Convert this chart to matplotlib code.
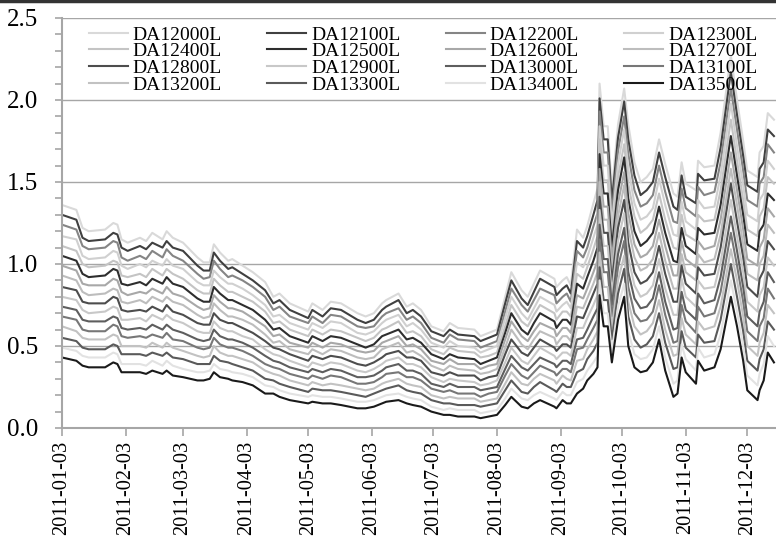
import matplotlib
matplotlib.use("Agg")
import matplotlib.pyplot as plt
from matplotlib.lines import Line2D
from matplotlib.ticker import MultipleLocator, FormatStrFormatter
import pandas as pd

plt.rcParams['font.family'] = ['Liberation Serif', 'DejaVu Serif']

dates = ["01-03","01-10","01-13","01-16","01-24","01-28","01-30","02-01","02-04","02-10",
         "02-13","02-16","02-21","02-23","02-26","03-03","03-10","03-13","03-16","03-18",
         "03-21","03-25","03-27","04-01","04-06","04-12","04-16","04-19","04-24","05-03",
         "05-05","05-10","05-14","05-19","05-27","05-31","06-04","06-08","06-10","06-16",
         "06-20","06-23","06-27","07-02","07-08","07-11","07-15","07-23","07-26","07-30",
         "08-03","08-07","08-10","08-15","08-18","08-21","08-24","08-31","09-01","09-04",
         "09-06","09-08","09-11","09-14","09-16","09-19","09-21","09-22","09-24","09-26",
         "09-28","10-01","10-04","10-06","10-09","10-12","10-15","10-18","10-21","10-24",
         "10-28","10-30","11-01","11-03","11-08","11-09","11-12","11-17","11-20","11-25",
         "11-28","12-01","12-03","12-08","12-09","12-11","12-13","12-16"]

da12000 = [1.36,1.33,1.22,1.20,1.21,1.25,1.24,1.15,1.13,1.16,1.14,1.19,1.15,1.20,1.16,1.13,1.04,1.01,1.01,1.12,
           1.07,1.02,1.03,0.99,0.95,0.89,0.80,0.82,0.76,0.71,0.76,0.72,0.77,0.76,0.70,0.68,0.70,0.76,0.78,0.82,
           0.74,0.76,0.72,0.62,0.59,0.64,0.61,0.60,0.56,0.58,0.60,0.80,0.95,0.84,0.80,0.88,0.96,0.91,0.86,0.90,
           0.92,0.87,1.21,1.16,1.23,1.37,1.46,2.10,1.84,1.84,1.45,1.85,2.07,1.85,1.62,1.50,1.53,1.58,1.76,1.61,
           1.43,1.41,1.62,1.49,1.45,1.63,1.59,1.60,1.80,2.27,2.00,1.75,1.57,1.53,1.68,1.72,1.92,1.88]
da12100 = [1.30,1.27,1.16,1.14,1.15,1.19,1.18,1.10,1.08,1.11,1.09,1.13,1.10,1.14,1.10,1.08,0.99,0.96,0.96,1.07,
           1.02,0.97,0.98,0.94,0.90,0.84,0.76,0.78,0.72,0.67,0.72,0.68,0.73,0.72,0.66,0.64,0.66,0.72,0.74,0.78,
           0.70,0.72,0.68,0.59,0.56,0.60,0.57,0.56,0.53,0.55,0.57,0.76,0.90,0.79,0.75,0.83,0.91,0.86,0.81,0.85,
           0.87,0.82,1.14,1.10,1.17,1.30,1.39,2.01,1.76,1.76,1.38,1.77,1.99,1.76,1.54,1.42,1.45,1.50,1.68,1.53,
           1.35,1.33,1.54,1.41,1.37,1.55,1.51,1.52,1.71,2.17,1.91,1.66,1.48,1.44,1.58,1.62,1.82,1.78]
da12200 = [1.24,1.21,1.11,1.09,1.10,1.14,1.13,1.04,1.02,1.05,1.03,1.08,1.04,1.09,1.05,1.02,0.94,0.91,0.92,1.02,
           0.97,0.92,0.93,0.90,0.86,0.80,0.72,0.74,0.68,0.64,0.68,0.64,0.69,0.68,0.62,0.61,0.62,0.68,0.70,0.73,
           0.66,0.68,0.64,0.55,0.52,0.57,0.54,0.53,0.49,0.51,0.53,0.71,0.85,0.75,0.71,0.78,0.85,0.81,0.76,0.80,
           0.82,0.77,1.08,1.04,1.10,1.23,1.31,1.93,1.68,1.68,1.31,1.69,1.90,1.67,1.45,1.35,1.37,1.42,1.60,1.44,
           1.26,1.25,1.46,1.34,1.29,1.47,1.42,1.44,1.62,2.07,1.82,1.57,1.39,1.35,1.49,1.53,1.73,1.68]
da12300 = [1.17,1.15,1.05,1.03,1.04,1.08,1.07,0.99,0.97,1.00,0.98,1.02,0.99,1.03,0.99,0.97,0.89,0.87,0.87,0.96,
           0.92,0.88,0.88,0.85,0.81,0.75,0.68,0.69,0.64,0.60,0.64,0.61,0.65,0.64,0.58,0.57,0.59,0.64,0.66,0.69,
           0.62,0.64,0.60,0.52,0.49,0.53,0.50,0.49,0.46,0.48,0.50,0.67,0.80,0.70,0.66,0.73,0.80,0.75,0.71,0.75,
           0.77,0.73,1.01,0.98,1.04,1.16,1.24,1.84,1.60,1.60,1.24,1.61,1.82,1.58,1.37,1.27,1.29,1.34,1.52,1.36,
           1.18,1.17,1.38,1.26,1.21,1.39,1.34,1.35,1.54,1.98,1.72,1.48,1.30,1.26,1.39,1.43,1.63,1.58]
da12400 = [1.11,1.08,1.00,0.98,0.99,1.02,1.01,0.93,0.92,0.94,0.92,0.97,0.93,0.97,0.94,0.91,0.84,0.82,0.82,0.91,
           0.87,0.83,0.83,0.80,0.77,0.71,0.64,0.65,0.60,0.56,0.60,0.57,0.60,0.59,0.55,0.53,0.55,0.60,0.61,0.65,
           0.58,0.59,0.56,0.48,0.45,0.49,0.47,0.46,0.43,0.44,0.46,0.62,0.75,0.65,0.62,0.69,0.75,0.70,0.66,0.71,
           0.71,0.68,0.94,0.91,0.98,1.09,1.17,1.76,1.51,1.51,1.17,1.53,1.73,1.49,1.29,1.19,1.22,1.27,1.43,1.27,
           1.10,1.09,1.30,1.18,1.14,1.30,1.26,1.27,1.45,1.88,1.63,1.39,1.21,1.17,1.29,1.34,1.53,1.49]
da12500 = [1.05,1.02,0.94,0.92,0.93,0.97,0.96,0.88,0.87,0.89,0.87,0.91,0.88,0.92,0.88,0.86,0.79,0.77,0.77,0.86,
           0.82,0.78,0.78,0.75,0.72,0.66,0.60,0.61,0.56,0.52,0.56,0.53,0.56,0.55,0.51,0.49,0.51,0.56,0.57,0.60,
           0.54,0.55,0.52,0.45,0.42,0.45,0.43,0.42,0.39,0.41,0.43,0.58,0.70,0.60,0.57,0.64,0.70,0.65,0.61,0.66,
           0.66,0.63,0.88,0.85,0.92,1.02,1.10,1.67,1.43,1.43,1.10,1.45,1.65,1.40,1.20,1.11,1.14,1.19,1.35,1.19,
           1.02,1.01,1.22,1.11,1.06,1.22,1.18,1.19,1.36,1.78,1.54,1.30,1.12,1.08,1.20,1.24,1.43,1.39]
da12600 = [0.99,0.96,0.88,0.87,0.87,0.91,0.90,0.83,0.81,0.83,0.82,0.85,0.82,0.86,0.82,0.80,0.74,0.72,0.73,0.81,
           0.77,0.73,0.73,0.71,0.67,0.62,0.56,0.57,0.52,0.49,0.52,0.49,0.52,0.51,0.47,0.46,0.47,0.52,0.53,0.56,
           0.50,0.51,0.48,0.41,0.39,0.42,0.39,0.39,0.36,0.38,0.39,0.54,0.65,0.56,0.53,0.59,0.64,0.60,0.56,0.61,
           0.61,0.58,0.81,0.79,0.85,0.95,1.02,1.58,1.35,1.35,1.03,1.37,1.56,1.31,1.12,1.04,1.06,1.11,1.27,1.11,
           0.93,0.93,1.14,1.03,0.98,1.14,1.09,1.11,1.27,1.68,1.45,1.21,1.03,0.99,1.10,1.15,1.34,1.29]
da12700 = [0.93,0.90,0.83,0.81,0.82,0.85,0.84,0.77,0.76,0.78,0.76,0.80,0.77,0.80,0.77,0.75,0.69,0.67,0.68,0.76,
           0.72,0.68,0.68,0.66,0.63,0.57,0.52,0.53,0.48,0.45,0.48,0.45,0.48,0.47,0.43,0.42,0.43,0.48,0.49,0.52,
           0.46,0.47,0.44,0.38,0.35,0.38,0.36,0.35,0.33,0.34,0.36,0.49,0.60,0.51,0.48,0.54,0.59,0.55,0.51,0.56,
           0.56,0.53,0.74,0.73,0.79,0.88,0.95,1.50,1.27,1.27,0.96,1.29,1.48,1.22,1.04,0.96,0.98,1.03,1.19,1.02,
           0.85,0.85,1.06,0.95,0.90,1.06,1.01,1.03,1.18,1.58,1.36,1.12,0.94,0.90,1.00,1.05,1.24,1.19]
da12800 = [0.86,0.84,0.77,0.76,0.76,0.80,0.79,0.72,0.71,0.72,0.71,0.74,0.71,0.75,0.71,0.69,0.64,0.63,0.63,0.70,
           0.66,0.64,0.64,0.61,0.58,0.53,0.49,0.48,0.45,0.41,0.44,0.42,0.44,0.43,0.39,0.38,0.40,0.43,0.45,0.47,
           0.43,0.43,0.41,0.34,0.32,0.34,0.32,0.32,0.29,0.31,0.32,0.45,0.54,0.46,0.44,0.49,0.54,0.49,0.47,0.51,
           0.51,0.49,0.68,0.67,0.73,0.82,0.88,1.41,1.19,1.19,0.89,1.22,1.39,1.13,0.95,0.88,0.90,0.95,1.11,0.94,
           0.77,0.77,0.99,0.88,0.82,0.98,0.93,0.94,1.10,1.49,1.26,1.04,0.86,0.80,0.91,0.96,1.14,1.09]
da12900 = [0.80,0.78,0.72,0.70,0.71,0.74,0.73,0.66,0.66,0.67,0.65,0.69,0.66,0.69,0.66,0.64,0.59,0.58,0.58,0.65,
           0.61,0.59,0.59,0.56,0.54,0.48,0.45,0.44,0.41,0.37,0.40,0.38,0.40,0.39,0.35,0.34,0.36,0.39,0.41,0.43,
           0.39,0.39,0.37,0.31,0.28,0.30,0.29,0.28,0.26,0.27,0.29,0.40,0.49,0.41,0.39,0.44,0.49,0.44,0.42,0.46,
           0.46,0.44,0.61,0.61,0.67,0.75,0.81,1.33,1.11,1.11,0.82,1.14,1.31,1.04,0.87,0.80,0.82,0.87,1.03,0.85,
           0.69,0.69,0.91,0.80,0.74,0.90,0.85,0.86,1.01,1.39,1.17,0.95,0.77,0.71,0.81,0.86,1.04,0.99]
da13000 = [0.74,0.72,0.66,0.65,0.65,0.68,0.67,0.61,0.60,0.61,0.60,0.63,0.60,0.63,0.60,0.58,0.54,0.53,0.54,0.60,
           0.56,0.54,0.54,0.52,0.49,0.44,0.41,0.40,0.37,0.34,0.36,0.34,0.36,0.35,0.31,0.31,0.32,0.35,0.37,0.39,
           0.35,0.35,0.33,0.27,0.25,0.27,0.25,0.25,0.23,0.24,0.25,0.36,0.44,0.37,0.35,0.39,0.43,0.39,0.37,0.41,
           0.41,0.39,0.54,0.55,0.60,0.68,0.73,1.24,1.03,1.03,0.75,1.06,1.22,0.95,0.79,0.73,0.74,0.79,0.95,0.77,
           0.60,0.61,0.83,0.72,0.66,0.82,0.76,0.78,0.92,1.29,1.08,0.86,0.68,0.62,0.71,0.77,0.95,0.89]
da13100 = [0.68,0.66,0.60,0.59,0.59,0.63,0.62,0.56,0.55,0.56,0.55,0.57,0.55,0.58,0.54,0.53,0.49,0.48,0.49,0.55,
           0.51,0.49,0.49,0.47,0.44,0.39,0.37,0.36,0.33,0.30,0.32,0.30,0.32,0.31,0.27,0.27,0.28,0.31,0.33,0.34,
           0.31,0.31,0.29,0.24,0.22,0.23,0.21,0.21,0.19,0.21,0.22,0.32,0.39,0.32,0.30,0.34,0.38,0.34,0.32,0.36,
           0.36,0.34,0.48,0.49,0.54,0.61,0.66,1.15,0.95,0.95,0.68,0.98,1.14,0.86,0.70,0.65,0.66,0.71,0.87,0.69,
           0.52,0.53,0.75,0.65,0.58,0.74,0.68,0.70,0.83,1.19,0.99,0.77,0.59,0.53,0.62,0.67,0.85,0.79]
da13200 = [0.62,0.59,0.55,0.54,0.54,0.57,0.56,0.50,0.50,0.50,0.49,0.52,0.49,0.52,0.49,0.47,0.44,0.43,0.44,0.50,
           0.46,0.44,0.44,0.42,0.40,0.35,0.33,0.32,0.29,0.26,0.28,0.26,0.27,0.26,0.24,0.23,0.24,0.27,0.28,0.30,
           0.27,0.26,0.25,0.20,0.18,0.19,0.18,0.18,0.16,0.17,0.18,0.27,0.34,0.27,0.26,0.30,0.33,0.29,0.27,0.32,
           0.30,0.29,0.41,0.42,0.48,0.54,0.59,1.07,0.86,0.86,0.61,0.90,1.05,0.77,0.62,0.57,0.59,0.64,0.78,0.60,
           0.44,0.45,0.67,0.57,0.51,0.65,0.60,0.62,0.74,1.09,0.90,0.68,0.50,0.44,0.52,0.58,0.75,0.70]
da13300 = [0.55,0.53,0.49,0.48,0.48,0.51,0.50,0.45,0.45,0.45,0.44,0.46,0.44,0.46,0.43,0.42,0.39,0.39,0.39,0.44,
           0.41,0.40,0.39,0.37,0.35,0.30,0.29,0.27,0.25,0.22,0.24,0.23,0.23,0.22,0.20,0.19,0.21,0.23,0.24,0.26,
           0.23,0.22,0.21,0.17,0.15,0.15,0.14,0.14,0.13,0.14,0.15,0.23,0.29,0.22,0.21,0.25,0.28,0.23,0.22,0.27,
           0.25,0.25,0.34,0.36,0.42,0.47,0.52,0.98,0.78,0.78,0.54,0.82,0.97,0.68,0.54,0.49,0.51,0.56,0.70,0.52,
           0.36,0.37,0.59,0.49,0.43,0.57,0.52,0.53,0.66,1.00,0.80,0.59,0.41,0.35,0.42,0.48,0.65,0.60]
da13400 = [0.49,0.47,0.44,0.43,0.43,0.46,0.45,0.39,0.39,0.39,0.38,0.41,0.38,0.41,0.38,0.36,0.34,0.34,0.35,0.39,
           0.36,0.35,0.34,0.33,0.31,0.26,0.25,0.23,0.21,0.19,0.20,0.19,0.19,0.18,0.16,0.16,0.17,0.19,0.20,0.21,
           0.19,0.18,0.17,0.13,0.11,0.12,0.11,0.11,0.09,0.10,0.11,0.18,0.24,0.18,0.17,0.20,0.22,0.18,0.17,0.22,
           0.20,0.20,0.28,0.30,0.35,0.40,0.44,0.90,0.70,0.70,0.47,0.74,0.88,0.59,0.45,0.42,0.43,0.48,0.62,0.43,
           0.27,0.29,0.51,0.42,0.35,0.49,0.43,0.45,0.57,0.90,0.71,0.50,0.32,0.26,0.33,0.39,0.56,0.50]
da13500 = [0.43,0.41,0.38,0.37,0.37,0.40,0.39,0.34,0.34,0.34,0.33,0.35,0.33,0.35,0.32,0.31,0.29,0.29,0.30,0.34,
           0.31,0.30,0.29,0.28,0.26,0.21,0.21,0.19,0.17,0.15,0.16,0.15,0.15,0.14,0.12,0.12,0.13,0.15,0.16,0.17,
           0.15,0.14,0.13,0.10,0.08,0.08,0.07,0.07,0.06,0.07,0.08,0.14,0.19,0.13,0.12,0.15,0.17,0.13,0.12,0.17,
           0.15,0.15,0.21,0.24,0.29,0.33,0.37,0.81,0.62,0.62,0.40,0.66,0.80,0.50,0.37,0.34,0.35,0.40,0.54,0.35,
           0.19,0.21,0.43,0.34,0.27,0.41,0.35,0.37,0.48,0.80,0.62,0.41,0.23,0.17,0.23,0.29,0.46,0.40]

series_names = ["DA12000L","DA12100L","DA12200L","DA12300L","DA12400L","DA12500L","DA12600L","DA12700L",
                "DA12800L","DA12900L","DA13000L","DA13100L","DA13200L","DA13300L","DA13400L","DA13500L"]
series_values = [da12000, da12100, da12200, da12300, da12400, da12500, da12600, da12700,
                 da12800, da12900, da13000, da13100, da13200, da13300, da13400, da13500]
series_colors = ["#d9d9d9","#404040","#858585","#d0d0d0","#c4c4c4","#2e2e2e","#a8a8a8","#bdbdbd",
                 "#4d4d4d","#c8c8c8","#5e5e5e","#777777","#c2c2c2","#5a5a5a","#e2e2e2","#1a1a1a"]

tick_labels = ["2011-01-03","2011-02-03","2011-03-03","2011-04-03","2011-05-03","2011-06-03",
               "2011-07-03","2011-08-03","2011-09-03","2011-10-03","2011-11-03","2011-12-03"]

x = pd.to_datetime(["2011-" + d for d in dates])

W, H = 776, 541
fig = plt.figure(figsize=(W / 100, H / 100), dpi=100)
ax = fig.add_axes([62 / W, 1 - 428 / H, 1 - 62 / W, (428 - 18) / H])

handles = []
for name, vals, col in zip(series_names, series_values, series_colors):
    h, = ax.plot(x, vals, color=col, lw=1.5, label=name, solid_joinstyle='round')
    handles.append(h)

ax.set_ylim(0, 2.5)
ax.set_xlim(pd.Timestamp("2011-01-03"), pd.Timestamp("2011-12-17"))
ax.yaxis.set_major_locator(MultipleLocator(0.5))
ax.yaxis.set_minor_locator(MultipleLocator(0.1))
ax.yaxis.set_major_formatter(FormatStrFormatter('%.1f'))
ax.set_xticks(pd.to_datetime(tick_labels))
ax.set_xticklabels(tick_labels, rotation=90)

ax.set_axisbelow(True)
ax.grid(axis='y', which='major', color='#a6a6a6', lw=1.0)
for s in ['top', 'right']:
    ax.spines[s].set_visible(False)
for s in ['left', 'bottom']:
    ax.spines[s].set_color('#a6a6a6')
    ax.spines[s].set_linewidth(1.5)

ax.tick_params(axis='y', which='both', direction='out', length=5, width=1.2,
               color='#a6a6a6', labelsize=18, pad=12)
ax.tick_params(axis='x', direction='out', length=6, width=1.2,
               color='#a6a6a6', labelsize=14.7, pad=3)

order = [0, 4, 8, 12, 1, 5, 9, 13, 2, 6, 10, 14, 3, 7, 11, 15]
ax.legend([handles[i] for i in order], [series_names[i] for i in order],
          ncol=4, loc='upper left', bbox_to_anchor=(89 / W, 1 - 26 / H),
          bbox_transform=fig.transFigure, frameon=False, fontsize=14,
          handlelength=2.0, handletextpad=0.25, columnspacing=2.33,
          labelspacing=-0.05, borderpad=0, borderaxespad=0)

fig.add_artist(Line2D([0, 1], [1 - 1.2 / H, 1 - 1.2 / H], color='#333333', lw=2.5,
                      transform=fig.transFigure))

fig.savefig("out.png", dpi=100)
